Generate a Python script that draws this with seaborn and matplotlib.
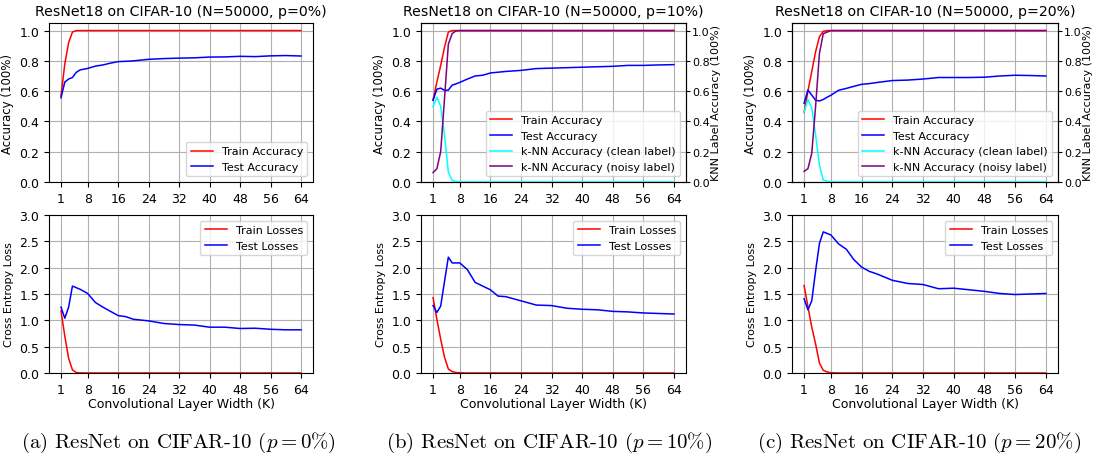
import matplotlib
matplotlib.use("Agg")
import matplotlib.pyplot as plt
import seaborn as sns

# -----------------------------
# DATA
# -----------------------------
widths = [1, 2, 3, 4, 5, 6, 7, 8, 10, 12, 14, 16, 18, 20, 24, 28, 32, 36, 40, 44, 48, 52, 56, 60, 64]
xticks = [1, 8, 16, 24, 32, 40, 48, 56, 64]
noise_levels = ["0%", "10%", "20%"]
panel_letters = ["a", "b", "c"]

# p = 0%
a_train_acc = [0.57, 0.78, 0.92, 0.99, 1.0, 1.0, 1.0, 1.0, 1.0, 1.0, 1.0, 1.0, 1.0, 1.0, 1.0, 1.0, 1.0, 1.0, 1.0, 1.0, 1.0, 1.0, 1.0, 1.0, 1.0]
a_test_acc = [0.556, 0.66, 0.68, 0.69, 0.724, 0.74, 0.745, 0.75, 0.765, 0.773, 0.785, 0.795, 0.797, 0.80, 0.81, 0.815, 0.818, 0.82, 0.825, 0.826, 0.83, 0.828, 0.833, 0.835, 0.832]
a_train_loss = [1.18, 0.70, 0.28, 0.06, 0.01, 0.003, 0.001, 0.0, 0.0, 0.0, 0.0, 0.0, 0.0, 0.0, 0.0, 0.0, 0.0, 0.0, 0.0, 0.0, 0.0, 0.0, 0.0, 0.0, 0.0]
a_test_loss = [1.25, 1.04, 1.25, 1.65, 1.62, 1.59, 1.55, 1.51, 1.34, 1.25, 1.17, 1.09, 1.07, 1.02, 0.99, 0.94, 0.92, 0.91, 0.87, 0.87, 0.845, 0.85, 0.83, 0.82, 0.82]

# p = 10%
b_train_acc = [0.54, 0.66, 0.77, 0.89, 0.99, 1.0, 1.0, 1.0, 1.0, 1.0, 1.0, 1.0, 1.0, 1.0, 1.0, 1.0, 1.0, 1.0, 1.0, 1.0, 1.0, 1.0, 1.0, 1.0, 1.0]
b_test_acc = [0.54, 0.613, 0.62, 0.605, 0.607, 0.64, 0.648, 0.658, 0.68, 0.70, 0.705, 0.72, 0.725, 0.73, 0.737, 0.749, 0.752, 0.755, 0.758, 0.761, 0.764, 0.77, 0.77, 0.773, 0.775]
b_knn_clean = [0.497, 0.56, 0.50, 0.31, 0.066, 0.01, 0.003, 0.0, 0.0, 0.0, 0.0, 0.0, 0.0, 0.0, 0.0, 0.0, 0.0, 0.0, 0.0, 0.0, 0.0, 0.0, 0.0, 0.0, 0.0]
b_knn_noisy = [0.062, 0.088, 0.2, 0.55, 0.91, 0.98, 0.998, 1.0, 1.0, 1.0, 1.0, 1.0, 1.0, 1.0, 1.0, 1.0, 1.0, 1.0, 1.0, 1.0, 1.0, 1.0, 1.0, 1.0, 1.0]
b_train_loss = [1.43, 1.02, 0.64, 0.30, 0.076, 0.025, 0.01, 0.003, 0.0, 0.0, 0.0, 0.0, 0.0, 0.0, 0.0, 0.0, 0.0, 0.0, 0.0, 0.0, 0.0, 0.0, 0.0, 0.0, 0.0]
b_test_loss = [1.28, 1.15, 1.27, 1.74, 2.2, 2.09, 2.09, 2.09, 1.96, 1.72, 1.65, 1.58, 1.46, 1.45, 1.37, 1.29, 1.28, 1.23, 1.21, 1.20, 1.17, 1.16, 1.14, 1.13, 1.12]

# p = 20%
c_train_acc = [0.46, 0.60, 0.73, 0.86, 0.96, 0.995, 1.0, 1.0, 1.0, 1.0, 1.0, 1.0, 1.0, 1.0, 1.0, 1.0, 1.0, 1.0, 1.0, 1.0, 1.0, 1.0, 1.0, 1.0, 1.0]
c_test_acc = [0.52, 0.607, 0.574, 0.54, 0.535, 0.545, 0.56, 0.573, 0.606, 0.618, 0.632, 0.645, 0.65, 0.657, 0.67, 0.673, 0.68, 0.69, 0.69, 0.69, 0.692, 0.70, 0.705, 0.703, 0.70]
c_knn_clean = [0.46, 0.545, 0.49, 0.31, 0.11, 0.013, 0.005, 0.0, 0.0, 0.0, 0.0, 0.0, 0.0, 0.0, 0.0, 0.0, 0.0, 0.0, 0.0, 0.0, 0.0, 0.0, 0.0, 0.0, 0.0]
c_knn_noisy = [0.07, 0.088, 0.19, 0.5, 0.85, 0.98, 0.99, 1.0, 1.0, 1.0, 1.0, 1.0, 1.0, 1.0, 1.0, 1.0, 1.0, 1.0, 1.0, 1.0, 1.0, 1.0, 1.0, 1.0, 1.0]
c_train_loss = [1.66, 1.26, 0.87, 0.55, 0.19, 0.05, 0.02, 0.005, 0.0, 0.0, 0.0, 0.0, 0.0, 0.0, 0.0, 0.0, 0.0, 0.0, 0.0, 0.0, 0.0, 0.0, 0.0, 0.0, 0.0]
c_test_loss = [1.41, 1.20, 1.37, 1.94, 2.46, 2.68, 2.65, 2.62, 2.45, 2.35, 2.15, 2.01, 1.93, 1.88, 1.76, 1.70, 1.68, 1.60, 1.61, 1.58, 1.55, 1.51, 1.49, 1.50, 1.51]

panels = [
    (a_train_acc, a_test_acc, None, None, a_train_loss, a_test_loss),
    (b_train_acc, b_test_acc, b_knn_clean, b_knn_noisy, b_train_loss, b_test_loss),
    (c_train_acc, c_test_acc, c_knn_clean, c_knn_noisy, c_train_loss, c_test_loss),
]

# -----------------------------
# LAYOUT
# -----------------------------
W, H = 1097, 460
fig = plt.figure(figsize=(W / 100, H / 100), dpi=100)
plt.rcParams["mathtext.fontset"] = "cm"

lefts = [49, 421, 792]
widths_px = [264, 265, 266]
caption_x = [178, 549, 919]
LW = 1.1
TICK_FS = 9


def frac(left, top, w, h):
    return [left / W, (H - top - h) / H, w / W, h / H]


for i, (tr_acc, te_acc, knn_c, knn_n, tr_loss, te_loss) in enumerate(panels):
    ax = fig.add_axes(frac(lefts[i], 24, widths_px[i], 159))
    sns.lineplot(x=widths, y=tr_acc, color="red", lw=LW, label="Train Accuracy", ax=ax)
    sns.lineplot(x=widths, y=te_acc, color="blue", lw=LW, label="Test Accuracy", ax=ax)
    ax.set_ylim(0, 1.05)
    ax.set_xticks(xticks)
    ax.grid(True, color="#b0b0b0", lw=0.8)
    ax.tick_params(labelsize=TICK_FS)
    ax.set_ylabel("Accuracy (100%)", fontsize=8.5)
    ax.set_title(f"ResNet18 on CIFAR-10 (N=50000, p={noise_levels[i]})", fontsize=10.2)

    if knn_c is not None:
        ax2 = ax.twinx()
        sns.lineplot(x=widths, y=knn_c, color="cyan", lw=LW, label="k-NN Accuracy (clean label)", ax=ax2)
        sns.lineplot(x=widths, y=knn_n, color="purple", lw=LW, label="k-NN Accuracy (noisy label)", ax=ax2)
        ax2.set_ylim(0, 1.05)
        ax2.tick_params(labelsize=8, pad=1.5, length=3)
        ax2.set_ylabel("KNN Label Accuracy (100%)", fontsize=8, labelpad=1)
        h1, l1 = ax.get_legend_handles_labels()
        h2, l2 = ax2.get_legend_handles_labels()
        ax.get_legend().remove()
        ax2.legend(h1 + h2, l1 + l2, loc="lower right", fontsize=8)
    else:
        ax.legend(loc="lower right", fontsize=8)

    axl = fig.add_axes(frac(lefts[i], 216, widths_px[i], 158))
    sns.lineplot(x=widths, y=tr_loss, color="red", lw=LW, label="Train Losses", ax=axl)
    sns.lineplot(x=widths, y=te_loss, color="blue", lw=LW, label="Test Losses", ax=axl)
    axl.set_ylim(0, 3.0)
    axl.set_xticks(xticks)
    axl.grid(True, color="#b0b0b0", lw=0.8)
    axl.tick_params(labelsize=TICK_FS)
    axl.set_ylabel("Cross Entropy Loss", fontsize=8)
    axl.set_xlabel("Convolutional Layer Width (K)", fontsize=9, labelpad=1)
    axl.legend(loc="upper right", fontsize=8)

    p = noise_levels[i].replace("%", r"\%")
    fig.text(caption_x[i] / W, (H - 443) / H,
             rf"({panel_letters[i]}) ResNet on CIFAR-10 ($p = {p}$)",
             ha="center", va="center", fontsize=15, family="cmr10")

fig.savefig("out.png", dpi=100)
